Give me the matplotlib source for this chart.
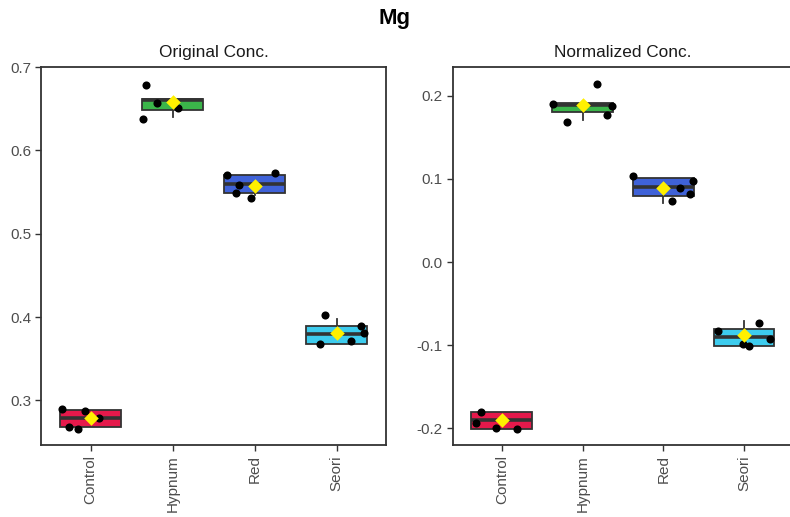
import matplotlib
matplotlib.use("Agg")
import matplotlib.pyplot as plt
import numpy as np

plt.rcParams['font.family'] = ['Liberation Sans', 'DejaVu Sans']

categories = ["Control", "Hypnum", "Red", "Seori"]
colors = ["#E5194B", "#3BB54A", "#3F62D8", "#3DCCEE"]

# Original concentration: box statistics
orig_q1 = [0.268, 0.649, 0.549, 0.368]
orig_med = [0.279, 0.6605, 0.5595, 0.380]
orig_q3 = [0.289, 0.662, 0.570, 0.389]
orig_wlo = [0.268, 0.640, 0.546, 0.368]
orig_whi = [0.289, 0.662, 0.570, 0.398]
orig_mean = [0.279, 0.6575, 0.5574, 0.3808]
# Original concentration: jittered points (values, horizontal jitter)
orig_pts = [
    [0.2892, 0.2868, 0.2792, 0.2680, 0.2655],
    [0.6788, 0.6571, 0.6508, 0.6372, 0.6580],
    [0.5703, 0.5730, 0.5591, 0.5490, 0.5435],
    [0.4021, 0.3893, 0.3808, 0.3717, 0.3681],
]
orig_jit = [
    [-0.35, -0.07, 0.10, -0.26, -0.16],
    [-0.33, -0.19, 0.06, -0.36, 0.00],
    [-0.34, 0.25, -0.19, -0.23, -0.04],
    [-0.14, 0.30, 0.33, 0.17, -0.20],
]

# Normalized concentration
norm_q1 = [-0.2005, 0.180, 0.080, -0.1004]
norm_med = [-0.190, 0.189, 0.0908, -0.0896]
norm_q3 = [-0.180, 0.1916, 0.1012, -0.080]
norm_wlo = [-0.2005, 0.1708, 0.0716, -0.1004]
norm_whi = [-0.180, 0.1916, 0.1012, -0.0708]
norm_mean = [-0.190, 0.1888, 0.0888, -0.0872]
norm_pts = [
    [-0.1800, -0.1936, -0.1993, -0.2005, -0.1900],
    [0.2140, 0.1904, 0.1880, 0.1768, 0.1680],
    [0.1040, 0.0980, 0.0888, 0.0816, 0.0736],
    [-0.0732, -0.0828, -0.0920, -0.0980, -0.1004],
]
norm_jit = [
    [-0.26, -0.32, -0.07, 0.19, 0.00],
    [0.18, -0.37, 0.37, 0.30, -0.19],
    [-0.38, 0.37, 0.20, 0.33, 0.11],
    [0.18, -0.32, 0.32, -0.02, 0.06],
]

fig = plt.figure(figsize=(7.9, 5.17), dpi=100)
ax1 = fig.add_axes([0.0525, 0.1393, 0.436, 0.731])
ax2 = fig.add_axes([0.5738, 0.1393, 0.4295, 0.731])

edge = "#333333"
tickc = "#4D4D4D"


def draw(ax, q1, med, q3, wlo, whi, mean, pts, jit, title, ylim, yticks):
    stats = []
    for i in range(len(categories)):
        stats.append(dict(q1=q1[i], med=med[i], q3=q3[i], whislo=wlo[i],
                          whishi=whi[i], fliers=[], label=categories[i]))
    pos = np.arange(1, len(categories) + 1)
    bp = ax.bxp(stats, positions=pos, widths=0.75, patch_artist=True,
                showcaps=False, showfliers=False,
                boxprops=dict(edgecolor=edge, linewidth=1.3),
                whiskerprops=dict(color=edge, linewidth=1.3),
                medianprops=dict(color=edge, linewidth=2.6, solid_capstyle='butt'))
    for patch, c in zip(bp['boxes'], colors):
        patch.set_facecolor(c)
    for i in range(len(categories)):
        xs = pos[i] + np.array(jit[i])
        ax.scatter(xs, pts[i], s=34, color="black", zorder=4, linewidths=0)
    ax.scatter(pos, mean, marker='D', s=55, color="#FFF000", zorder=5, linewidths=0)
    ax.set_xlim(0.4, 4.6)
    ax.set_ylim(*ylim)
    ax.set_yticks(yticks)
    ax.set_yticklabels([f"{t:.1f}" for t in yticks])
    ax.set_xticks(pos)
    ax.set_xticklabels(categories, rotation=90)
    ax.tick_params(axis='both', colors=edge, labelcolor=tickc, labelsize=11,
                   length=4, width=1.0)
    for s in ax.spines.values():
        s.set_color(edge)
        s.set_linewidth(1.3)
    ax.set_title(title, fontsize=12.4, color="#1A1A1A", pad=7)


draw(ax1, orig_q1, orig_med, orig_q3, orig_wlo, orig_whi, orig_mean,
     orig_pts, orig_jit, "Original Conc.", (0.2466, 0.70), [0.3, 0.4, 0.5, 0.6, 0.7])
draw(ax2, norm_q1, norm_med, norm_q3, norm_wlo, norm_whi, norm_mean,
     norm_pts, norm_jit, "Normalized Conc.", (-0.220, 0.2345), [-0.2, -0.1, 0.0, 0.1, 0.2])

fig.text(0.5, 0.965, "Mg", ha='center', va='center', fontsize=16, fontweight='bold')

fig.savefig("out.png", dpi=100)
